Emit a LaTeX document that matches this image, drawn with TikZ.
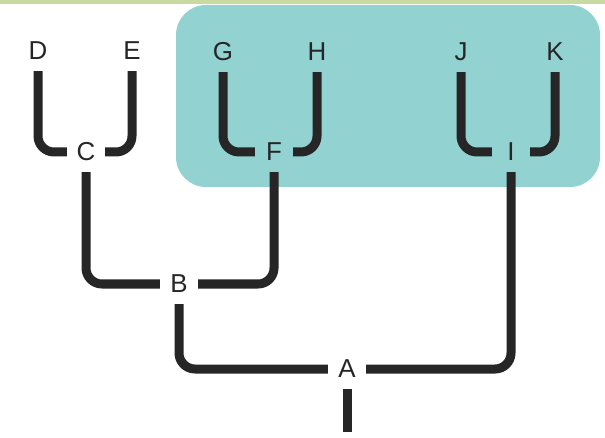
\documentclass[tikz,border=0pt]{standalone}
\usepackage{fontspec}
\setmainfont{Liberation Sans}
\definecolor{ink}{HTML}{262626}
\definecolor{teal}{HTML}{92D2D1}
\definecolor{band}{HTML}{C8D9A2}
\tikzset{
  taxon/.style={text=ink,font=\fontsize{26}{28}\selectfont,inner sep=0pt,minimum height=40bp},
  split/.style={taxon,minimum width=38bp},
  branch/.style={draw=ink,line width=9bp,rounded corners=16bp,line cap=butt}
}

\begin{document}
\begin{tikzpicture}[x=1bp,y=-1bp]
  \path[use as bounding box] (0,0) rectangle (605,438);
  \fill[white] (0,0) rectangle (605,438);
  \fill[band] (0,0) rectangle (605,4);

  % shaded clade F + I
  \fill[teal,rounded corners=30bp] (176,5) rectangle (600,187);

  % tips
  \node[taxon] (D) at (38,51) {D};
  \node[taxon] (E) at (132,51) {E};
  \node[taxon] (G) at (223,52) {G};
  \node[taxon] (H) at (317,52) {H};
  \node[taxon] (J) at (461,52) {J};
  \node[taxon] (K) at (555,52) {K};

  % inner nodes
  \node[split] (C) at (86,152) {C};
  \node[split] (F) at (274,152) {F};
  \node[split] (I) at (511,152) {I};
  \node[split] (B) at (179,284) {B};
  \node[split] (A) at (347,369) {A};
  \coordinate (root) at (347,432);

  \draw[branch] (D.south) |- (C.west);
  \draw[branch] (E.south) |- (C.east);
  \draw[branch] (G.south) |- (F.west);
  \draw[branch] (H.south) |- (F.east);
  \draw[branch] (J.south) |- (I.west);
  \draw[branch] (K.south) |- (I.east);
  \draw[branch] (C.south) |- (B.west);
  \draw[branch] (F.south) |- (B.east);
  \draw[branch] (B.south) |- (A.west);
  \draw[branch] (I.south) |- (A.east);
  \draw[branch] (A.south) -- (root);
\end{tikzpicture}
\end{document}
